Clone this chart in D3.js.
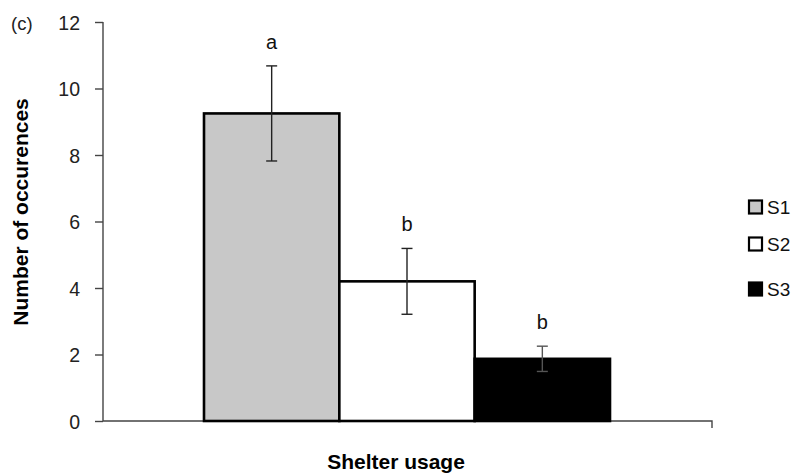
<!DOCTYPE html>
<html><head><meta charset="utf-8">
<script src="https://cdn.jsdelivr.net/npm/d3@7/dist/d3.min.js"></script>
<style>body{margin:0;background:#fff}svg{display:block}text{font-family:"Liberation Sans",Arial,sans-serif}</style>
</head><body><svg id="c" width="793" height="475"></svg>
<script>
const categories = ["S1","S2","S3"];
const values = [9.25, 4.2, 1.87];
const errors = [1.43, 0.99, 0.38];
const letters = ["a","b","b"];
const colors = ["#c8c8c8","#ffffff","#000000"];
const yTicks = [0,2,4,6,8,10,12];

const svg = d3.select("#c");
const y = d3.scaleLinear().domain([0,12]).range([421,22]);
const x = d3.scaleBand().domain(categories).range([204,610]).paddingInner(0).paddingOuter(0);

// axes
const yAxis = d3.axisLeft(y).tickValues(yTicks).tickSize(8).tickPadding(15);
const gy = svg.append("g").attr("transform","translate(103,0)").call(yAxis);
gy.select(".domain").attr("stroke","#444").attr("stroke-width",1.4).attr("d","M0,22V421");
gy.selectAll(".tick line").attr("stroke","#444").attr("stroke-width",1.4);
gy.selectAll(".tick text").attr("font-size",19.5).attr("fill","#222").attr("dy","0.36em")
  .attr("font-family","'Liberation Sans',Arial,sans-serif");

svg.append("path").attr("d","M103,421H712V428").attr("fill","none").attr("stroke","#444").attr("stroke-width",1.4);

// bars
svg.selectAll("rect.bar").data(categories).enter().append("rect")
  .attr("x",d=>x(d)).attr("width",x.bandwidth())
  .attr("y",(d,i)=>y(values[i])).attr("height",(d,i)=>y(0)-y(values[i]))
  .attr("fill",(d,i)=>colors[i]).attr("stroke","#000").attr("stroke-width",2.6);

// error bars
const eg = svg.append("g").attr("stroke-width",1.4);
categories.forEach((c,i)=>{
  const cx = x(c)+x.bandwidth()/2;
  const t = y(values[i]+errors[i]), b = y(values[i]-errors[i]);
  const col = i===2 ? "#555" : "#222";
  eg.append("line").attr("x1",cx).attr("x2",cx).attr("y1",t).attr("y2",b).attr("stroke",col);
  eg.append("line").attr("x1",cx-5.5).attr("x2",cx+5.5).attr("y1",t).attr("y2",t).attr("stroke",col);
  eg.append("line").attr("x1",cx-5.5).attr("x2",cx+5.5).attr("y1",b).attr("y2",b).attr("stroke",col);
  svg.append("text").attr("x",cx).attr("y",t-17).attr("text-anchor","middle")
    .attr("font-size",20).attr("fill","#111").text(letters[i]);
});

// labels
svg.append("text").attr("x",11).attr("y",30).attr("font-size",18.5).attr("fill","#222").text("(c)");
svg.append("text").attr("transform","translate(28,212) rotate(-90)").attr("text-anchor","middle")
  .attr("font-size",21).attr("font-weight","bold").attr("fill","#000").text("Number of occurences");
svg.append("text").attr("x",396).attr("y",469).attr("text-anchor","middle")
  .attr("font-size",21).attr("font-weight","bold").attr("fill","#000").text("Shelter usage");

// legend
const legY = [207,244,289];
categories.forEach((c,i)=>{
  svg.append("rect").attr("x",749).attr("y",legY[i]-6.5).attr("width",13).attr("height",13)
    .attr("fill",colors[i]).attr("stroke","#000").attr("stroke-width",2.2);
  svg.append("text").attr("x",767).attr("y",legY[i]+7).attr("font-size",19).attr("fill","#111").text(c);
});
</script></body></html>
